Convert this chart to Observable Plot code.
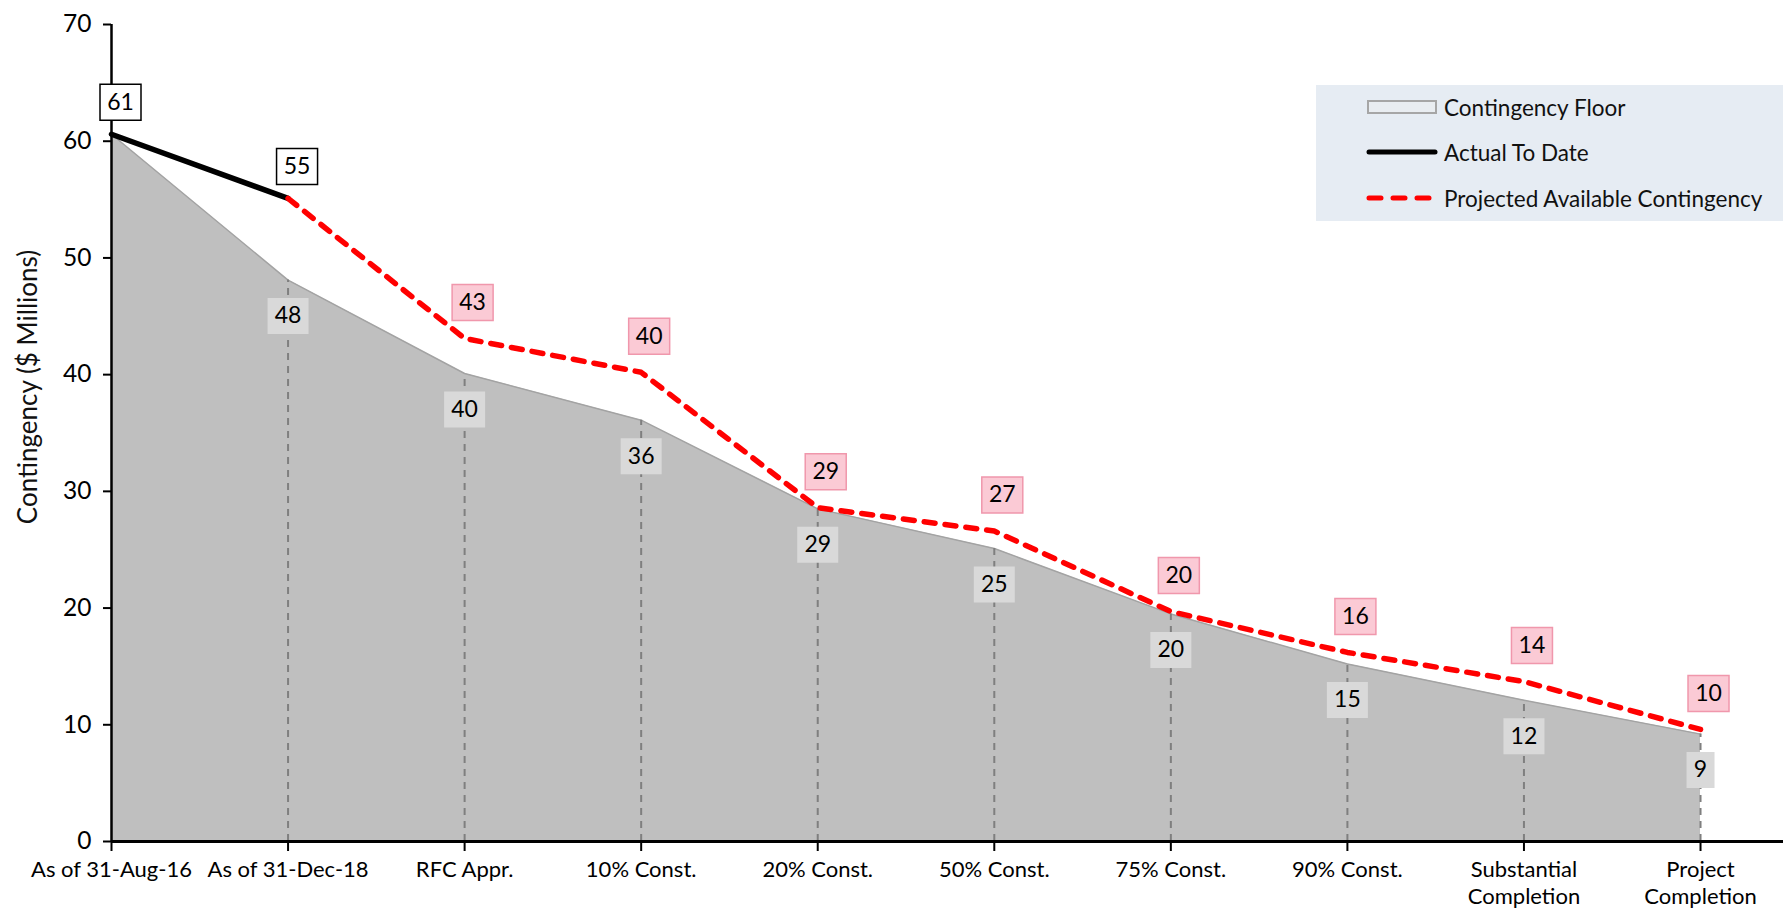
<!DOCTYPE html>
<html><head><meta charset="utf-8">
<script src="https://cdn.jsdelivr.net/npm/d3@7"></script>
<script src="https://cdn.jsdelivr.net/npm/@observablehq/plot@0.6"></script>
<style>
body{margin:0;background:#fff;font-family:Lato,"Open Sans",sans-serif;}
#wrap{position:relative;width:1783px;height:908px;overflow:hidden;}
#legend{position:absolute;left:1316px;top:85px;width:467px;height:136px;background:#e6ecf3;}
.row{position:absolute;left:50px;height:30px;display:flex;align-items:center;font-size:22.5px;color:#111;white-space:nowrap;}
.row svg{margin-right:6px;}
#ytitle{position:absolute;left:27px;top:387px;transform:translate(-50%,-50%) rotate(-90deg);white-space:nowrap;font-size:26px;color:#111;}
</style></head>
<body><div id="wrap"></div>
<script>
const categories = ["As of 31-Aug-16","As of 31-Dec-18","RFC Appr.","10% Const.","20% Const.","50% Const.","75% Const.","90% Const.","Substantial\nCompletion","Project\nCompletion"];
const floorValues = [60.6,48.1,40.1,36.1,28.5,25.1,19.5,15.2,12.1,9.2];
const actualValues = [60.6,55.1];
const projectedValues = [null,55.1,43.1,40.2,28.6,26.6,19.7,16.2,13.7,9.6];
const yTicks = [0,10,20,30,40,50,60,70];
const yTitle = "Contingency ($ Millions)";
const seriesNames = ["Contingency Floor","Actual To Date","Projected Available Contingency"];

const floorData = floorValues.map((v,i)=>({i, v, label: String(Math.round(v))}));
const actualData = actualValues.map((v,i)=>({i, v, label: String(Math.round(v))}));
const projData = projectedValues.map((v,i)=>({i, v, label: v==null?"":String(Math.round(v))})).filter(d=>d.v!=null);
const floorLabels = floorData.filter(d=>d.i>=1);
const projLabels = projData.filter(d=>d.i>=2);

const box = (w,h) => ({draw(ctx){ctx.moveTo(-w/2,-h/2);ctx.lineTo(w/2,-h/2);ctx.lineTo(w/2,h/2);ctx.lineTo(-w/2,h/2);ctx.closePath();}});
const wide = box(41,36), narrow = box(28,36);
const two = d=>d.label.length>1, one = d=>d.label.length<=1;
const LBL = 23;

const chart = Plot.plot({
  width: 1783, height: 908,
  marginLeft: 111, marginRight: 0, marginTop: 24, marginBottom: 67,
  style: {fontFamily: "Lato, 'Open Sans', sans-serif", background: "white", color: "black"},
  x: {type: "linear", domain: [0, 9.47], axis: null},
  y: {domain: [0, 70], axis: null},
  marks: [
    Plot.areaY(floorData, {x: "i", y: "v", fill: "#bfbfbf"}),
    Plot.lineY(floorData, {x: "i", y: "v", stroke: "#a3a3a3", strokeWidth: 1.5}),
    Plot.ruleX(floorLabels, {x: "i", y1: 0, y2: "v", stroke: "#7f7f7f", strokeWidth: 2, strokeDasharray: "7,6"}),
    Plot.ruleY([0], {stroke: "black", strokeWidth: 3}),
    Plot.ruleX([0], {y1: 0, y2: 70, stroke: "black", strokeWidth: 2.5}),
    Plot.lineY(actualData, {x: "i", y: "v", stroke: "black", strokeWidth: 5.5}),
    Plot.lineY(projData, {x: "i", y: "v", stroke: "#ff0000", strokeWidth: 5.5, strokeDasharray: "11,10", strokeLinecap: "round"}),
    Plot.dot(floorLabels.filter(two), {x: "i", y: "v", dy: 36, r: 3, symbol: wide, fill: "#d9d9d9", stroke: "none"}),
    Plot.dot(floorLabels.filter(one), {x: "i", y: "v", dy: 36, r: 3, symbol: narrow, fill: "#d9d9d9", stroke: "none"}),
    Plot.text(floorLabels, {x: "i", y: "v", dy: 36, text: "label", fontSize: LBL, fill: "black"}),
    Plot.dot(projLabels, {x: "i", y: "v", dx: 8, dy: -36, r: 3, symbol: wide, fill: "#fbcad5", stroke: "#f097ac", strokeWidth: 1.5}),
    Plot.text(projLabels, {x: "i", y: "v", dx: 8, dy: -36, text: "label", fontSize: LBL, fill: "black"}),
    Plot.dot(actualData, {x: "i", y: "v", dx: 9, dy: -32, r: 3, symbol: wide, fill: "white", stroke: "black", strokeWidth: 1.5}),
    Plot.text(actualData, {x: "i", y: "v", dx: 9, dy: -32, text: "label", fontSize: LBL, fill: "black"}),
    Plot.axisY({ticks: yTicks, tickSize: 8, tickPadding: 12, fontSize: 24.5, label: null, color: "black", strokeWidth: 2}),
    Plot.axisX({ticks: d3.range(10), tickFormat: i => categories[i], tickSize: 10, tickPadding: 7, fontSize: 22, lineHeight: 1.2, label: null, color: "black", strokeWidth: 2})
  ]
});
const wrap = document.getElementById("wrap");
wrap.appendChild(chart);

const title = document.createElement("div");
title.id = "ytitle";
title.textContent = yTitle;
wrap.appendChild(title);

const legend = document.createElement("div");
legend.id = "legend";
const swatches = [
  '<svg width="72" height="20"><rect x="2" y="4" width="68" height="12" fill="#e9edf1" stroke="#a6a6a6" stroke-width="2"/></svg>',
  '<svg width="72" height="20"><line x1="3" y1="10" x2="69" y2="10" stroke="black" stroke-width="5" stroke-linecap="round"/></svg>',
  '<svg width="72" height="20"><line x1="3" y1="10" x2="69" y2="10" stroke="#ff0000" stroke-width="5" stroke-linecap="round" stroke-dasharray="12,12"/></svg>'
];
const rowTops = [7, 52, 98];
seriesNames.forEach((name, k) => {
  const r = document.createElement("div");
  r.className = "row";
  r.style.top = rowTops[k] + "px";
  r.innerHTML = swatches[k] + "<span>" + name + "</span>";
  legend.appendChild(r);
});
wrap.appendChild(legend);
</script>
</body></html>
